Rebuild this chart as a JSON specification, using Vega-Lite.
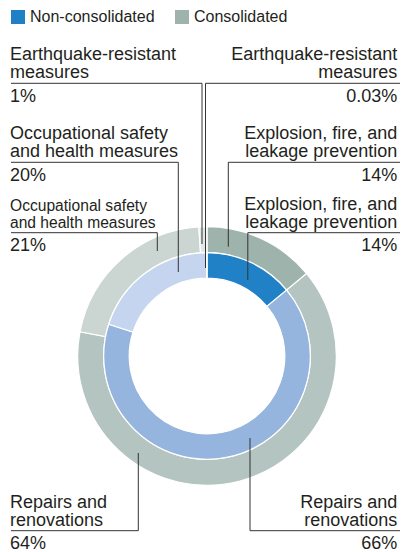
{
  "$schema": "https://vega.github.io/schema/vega-lite/v6.json",
  "width": 402,
  "height": 552,
  "autosize": {"type": "none"},
  "padding": 0,
  "background": "white",
  "data": {
    "values": [
      {"series": "Non-consolidated", "category": "Explosion, fire, and leakage prevention", "label": "Explosion, fire, and\nleakage prevention", "value": 14},
      {"series": "Non-consolidated", "category": "Repairs and renovations", "label": "Repairs and\nrenovations", "value": 66},
      {"series": "Non-consolidated", "category": "Occupational safety and health measures", "label": "Occupational safety\nand health measures", "value": 20},
      {"series": "Non-consolidated", "category": "Earthquake-resistant measures", "label": "Earthquake-resistant\nmeasures", "value": 0.03},
      {"series": "Consolidated", "category": "Explosion, fire, and leakage prevention", "label": "Explosion, fire, and\nleakage prevention", "value": 14},
      {"series": "Consolidated", "category": "Repairs and renovations", "label": "Repairs and\nrenovations", "value": 64},
      {"series": "Consolidated", "category": "Occupational safety and health measures", "label": "Occupational safety\nand health measures", "value": 21},
      {"series": "Consolidated", "category": "Earthquake-resistant measures", "label": "Earthquake-resistant\nmeasures", "value": 1}
    ]
  },
  "layer": [
    {
      "mark": {"type": "point", "shape": "square", "filled": true, "opacity": 0},
      "encoding": {
        "x": {"datum": 0},
        "y": {"datum": 0},
        "color": {
          "field": "series",
          "type": "nominal",
          "scale": {"domain": ["Non-consolidated", "Consolidated"], "range": ["#2080c6", "#9db3ab"]},
          "legend": {
            "orient": "none", "legendX": 10, "legendY": 9, "direction": "horizontal", "title": null,
            "symbolType": "square", "symbolSize": 196, "symbolOpacity": 1, "symbolStrokeWidth": 0,
            "labelFontSize": 16, "labelFont": "Liberation Sans", "labelColor": "#231f20",
            "columnPadding": 19, "labelOffset": 4, "padding": 0
          }
        }
      }
    },
    {
      "transform": [{"filter": "datum.series === 'Consolidated'"}, {"window": [{"op": "row_number", "as": "rank"}]}],
      "mark": {"type": "arc", "radius": 129.3, "radius2": 103.3, "stroke": "#ffffff", "strokeWidth": 1.2},
      "encoding": {
        "x": {"datum": 0, "scale": {"domain": [-207, 195], "nice": false, "zero": false}},
        "y": {"datum": 0, "scale": {"domain": [-196, 356], "nice": false, "zero": false}},
        "theta": {"field": "value", "type": "quantitative", "stack": true},
        "order": {"field": "rank", "type": "quantitative"},
        "fill": {
          "field": "category", "type": "nominal", "legend": null,
          "scale": {
            "domain": ["Explosion, fire, and leakage prevention", "Repairs and renovations", "Occupational safety and health measures", "Earthquake-resistant measures"],
            "range": ["#9db3ab", "#b3c4c1", "#cbd6d3", "#e2e8e6"]
          }
        }
      }
    },
    {
      "transform": [{"filter": "datum.series === 'Non-consolidated'"}, {"window": [{"op": "row_number", "as": "rank"}]}],
      "mark": {"type": "arc", "radius": 103.3, "radius2": 77.8, "stroke": "#ffffff", "strokeWidth": 1.2},
      "encoding": {
        "x": {"datum": 0},
        "y": {"datum": 0},
        "theta": {"field": "value", "type": "quantitative", "stack": true},
        "order": {"field": "rank", "type": "quantitative"},
        "fill": {
          "field": "category", "type": "nominal", "legend": null,
          "scale": {
            "domain": ["Explosion, fire, and leakage prevention", "Repairs and renovations", "Occupational safety and health measures", "Earthquake-resistant measures"],
            "range": ["#2181c7", "#95b4de", "#c5d5ef", "#dfe8f6"]
          }
        }
      }
    },
    {
      "transform": [{"filter": "datum.series === 'Consolidated' && datum.category === 'Earthquake-resistant measures'"}],
      "encoding": {"y": {"datum": 272.7}},
      "layer": [
        {"mark": {"type": "text", "align": "left", "dy": -23.2}, "encoding": {"x": {"datum": -197}, "text": {"field": "label"}}},
        {"mark": {"type": "text", "align": "left", "dy": 18.5, "text": {"expr": "datum.value + '%'"}}, "encoding": {"x": {"datum": -197}}},
        {"mark": "rule", "encoding": {"x": {"datum": -196}, "x2": {"datum": -5}}},
        {"mark": "rule", "encoding": {"x": {"datum": -5}, "y2": {"datum": 112}}}
      ]
    },
    {
      "transform": [{"filter": "datum.series === 'Non-consolidated' && datum.category === 'Earthquake-resistant measures'"}],
      "encoding": {"y": {"datum": 272.7}},
      "layer": [
        {"mark": {"type": "text", "align": "right", "dy": -23.2}, "encoding": {"x": {"datum": 190.3}, "text": {"field": "label"}}},
        {"mark": {"type": "text", "align": "right", "dy": 18.5, "text": {"expr": "datum.value + '%'"}}, "encoding": {"x": {"datum": 190.3}}},
        {"mark": "rule", "encoding": {"x": {"datum": -1.5}, "x2": {"datum": 193}}},
        {"mark": "rule", "encoding": {"x": {"datum": -1.5}, "y2": {"datum": 88}}}
      ]
    },
    {
      "transform": [{"filter": "datum.series === 'Non-consolidated' && datum.category === 'Occupational safety and health measures'"}],
      "encoding": {"y": {"datum": 193.7}},
      "layer": [
        {"mark": {"type": "text", "align": "left", "dy": -23.2}, "encoding": {"x": {"datum": -197}, "text": {"field": "label"}}},
        {"mark": {"type": "text", "align": "left", "dy": 18.5, "text": {"expr": "datum.value + '%'"}}, "encoding": {"x": {"datum": -197}}},
        {"mark": "rule", "encoding": {"x": {"datum": -196}, "x2": {"datum": -28.7}}},
        {"mark": "rule", "encoding": {"x": {"datum": -28.7}, "y2": {"datum": 84}}}
      ]
    },
    {
      "transform": [{"filter": "datum.series === 'Consolidated' && datum.category === 'Explosion, fire, and leakage prevention'"}],
      "encoding": {"y": {"datum": 193.7}},
      "layer": [
        {"mark": {"type": "text", "align": "right", "dy": -23.2}, "encoding": {"x": {"datum": 190.3}, "text": {"field": "label"}}},
        {"mark": {"type": "text", "align": "right", "dy": 18.5, "text": {"expr": "datum.value + '%'"}}, "encoding": {"x": {"datum": 190.3}}},
        {"mark": "rule", "encoding": {"x": {"datum": 21.3}, "x2": {"datum": 193}}},
        {"mark": "rule", "encoding": {"x": {"datum": 21.3}, "y2": {"datum": 109.3}}}
      ]
    },
    {
      "transform": [{"filter": "datum.series === 'Consolidated' && datum.category === 'Occupational safety and health measures'"}],
      "encoding": {"y": {"datum": 123.3}},
      "layer": [
        {"mark": {"type": "text", "align": "left", "dy": -21.7, "fontSize": 15.6, "lineHeight": 16.7}, "encoding": {"x": {"datum": -197}, "text": {"field": "label"}}},
        {"mark": {"type": "text", "align": "left", "dy": 18.5, "text": {"expr": "datum.value + '%'"}}, "encoding": {"x": {"datum": -197}}},
        {"mark": "rule", "encoding": {"x": {"datum": -196}, "x2": {"datum": -49.7}}},
        {"mark": "rule", "encoding": {"x": {"datum": -49.7}, "y2": {"datum": 105}}}
      ]
    },
    {
      "transform": [{"filter": "datum.series === 'Non-consolidated' && datum.category === 'Explosion, fire, and leakage prevention'"}],
      "encoding": {"y": {"datum": 123.3}},
      "layer": [
        {"mark": {"type": "text", "align": "right", "dy": -23.2}, "encoding": {"x": {"datum": 190.3}, "text": {"field": "label"}}},
        {"mark": {"type": "text", "align": "right", "dy": 18.5, "text": {"expr": "datum.value + '%'"}}, "encoding": {"x": {"datum": 190.3}}},
        {"mark": "rule", "encoding": {"x": {"datum": 40.8}, "x2": {"datum": 193}}},
        {"mark": "rule", "encoding": {"x": {"datum": 40.8}, "y2": {"datum": 76}}}
      ]
    },
    {
      "transform": [{"filter": "datum.series === 'Consolidated' && datum.category === 'Repairs and renovations'"}],
      "encoding": {"y": {"datum": -174.7}},
      "layer": [
        {"mark": {"type": "text", "align": "left", "dy": -23.2}, "encoding": {"x": {"datum": -197}, "text": {"field": "label"}}},
        {"mark": {"type": "text", "align": "left", "dy": 18.5, "text": {"expr": "datum.value + '%'"}}, "encoding": {"x": {"datum": -197}}},
        {"mark": "rule", "encoding": {"x": {"datum": -196}, "x2": {"datum": -68.7}}},
        {"mark": "rule", "encoding": {"x": {"datum": -68.7}, "y2": {"datum": -97}}}
      ]
    },
    {
      "transform": [{"filter": "datum.series === 'Non-consolidated' && datum.category === 'Repairs and renovations'"}],
      "encoding": {"y": {"datum": -174.7}},
      "layer": [
        {"mark": {"type": "text", "align": "right", "dy": -23.2}, "encoding": {"x": {"datum": 190.3}, "text": {"field": "label"}}},
        {"mark": {"type": "text", "align": "right", "dy": 18.5, "text": {"expr": "datum.value + '%'"}}, "encoding": {"x": {"datum": 190.3}}},
        {"mark": "rule", "encoding": {"x": {"datum": 43}, "x2": {"datum": 193}}},
        {"mark": "rule", "encoding": {"x": {"datum": 43}, "y2": {"datum": -82}}}
      ]
    }
  ],
  "resolve": {"scale": {"theta": "independent", "fill": "independent"}},
  "config": {
    "view": {"stroke": null},
    "axis": {"disable": true},
    "text": {"font": "Liberation Sans", "fontSize": 18, "fill": "#231f20", "baseline": "alphabetic", "lineBreak": "\n", "lineHeight": 18.2},
    "rule": {"stroke": "#333333", "strokeWidth": 1}
  }
}
